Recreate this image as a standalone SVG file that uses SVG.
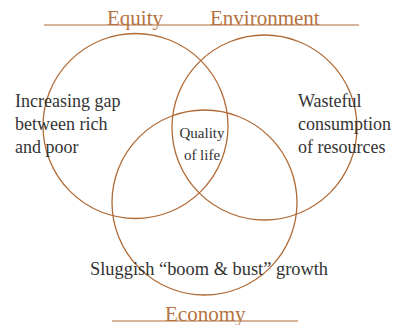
<svg xmlns="http://www.w3.org/2000/svg" width="393" height="325" viewBox="0 0 393 325">
<style>
.c{fill:none;stroke:#b06a35;stroke-width:1.3}
.h{fill:none;stroke:#b06a35;stroke-width:1.2}
text{font-family:'Liberation Serif','Times New Roman','DejaVu Serif',serif}
.t{font-size:18px;fill:#333}
.q{font-size:15px;fill:#333}
.k{font-size:21px;fill:#b5733f}
</style>
<rect width="393" height="325" fill="#fff"/>
<g id="connectors">
<line class="h" x1="44" y1="25" x2="359" y2="25"/>
<line class="h" x1="112" y1="321" x2="298" y2="321"/>
</g>
<g id="equity">
<circle class="c" cx="135.5" cy="126" r="92.5"/>
<text class="k" x="107" y="25">Equity</text>
<text class="t" x="15" y="107">Increasing gap</text>
<text class="t" x="15" y="130">between rich</text>
<text class="t" x="15" y="153">and poor</text>
</g>
<g id="environment">
<circle class="c" cx="264.5" cy="127.5" r="92.5"/>
<text class="k" x="210" y="25">Environment</text>
<text class="t" x="298" y="107">Wasteful</text>
<text class="t" x="298" y="130">consumption</text>
<text class="t" x="298" y="153">of resources</text>
</g>
<g id="economy">
<circle class="c" cx="204.5" cy="202.5" r="92.5"/>
<text class="k" x="165" y="321">Economy</text>
<text class="t" x="90" y="275" style="font-size:18.4px">Sluggish “boom &amp; bust” growth</text>
</g>
<g id="quality">
<text class="q" x="202" y="138" text-anchor="middle">Quality</text>
<text class="q" x="202" y="160" text-anchor="middle">of life</text>
</g>
</svg>
